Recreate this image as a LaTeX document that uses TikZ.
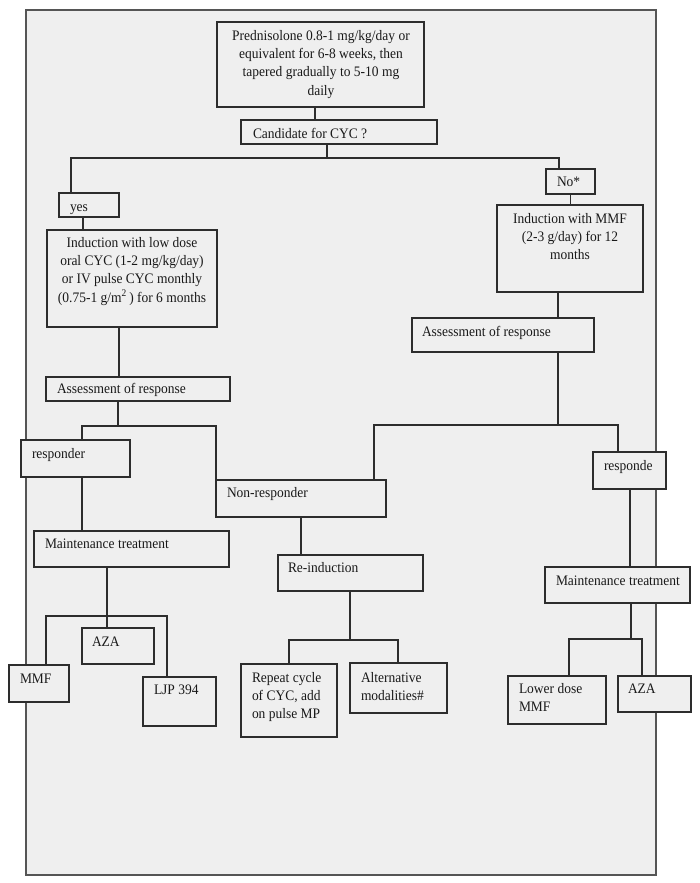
\documentclass[tikz,border=0pt]{standalone}
\usepackage{fontspec}
\setmainfont{Liberation Serif}[FakeStretch=0.93]
\definecolor{bg}{RGB}{239,239,239}
\definecolor{ln}{RGB}{45,45,45}
\definecolor{fr}{RGB}{85,85,85}
\definecolor{tx}{RGB}{25,25,25}
\tikzset{
  boxst/.style={draw=ln, line width=1.3pt, fill=bg, rectangle, inner sep=0pt, outer sep=0pt},
  txt/.style={inner sep=0pt, outer sep=0pt, text=tx, font=\fontsize{14.5}{18.2}\selectfont},
  conn/.style={draw=ln, line width=1.3pt}
}
\newcommand\bx[5]{\node[boxst, anchor=north west, minimum width={(#4-#2)*1pt}, minimum height={(#5-#3)*1pt}] (#1) at (#2,-#3) {};}
\newcommand\tl[4]{\node[txt, anchor=base west] (#1) at (#2,{-#3-4.5}) {#4};}
\begin{document}
\begin{tikzpicture}[x=1pt,y=1pt]
\useasboundingbox (0,0) rectangle (700,-883);
\fill[white] (0,0) rectangle (700,-883);
\draw[draw=fr, line width=1.2pt, fill=bg] (26,-10) rectangle (656,-875);

% boxes
\bx{top}{217}{22}{424}{107}
\bx{cand}{241}{120}{437}{144}
\bx{yes}{59}{193}{119}{217}
\bx{no}{546}{169}{595}{194}
\bx{indL}{47}{230}{217}{327}
\bx{indR}{497}{205}{643}{292}
\bx{assR}{412}{318}{594}{352}
\bx{assL}{46}{377}{230}{401}
\bx{resp}{21}{440}{130}{477}
\bx{nonr}{216}{480}{386}{517}
\bx{mntL}{34}{531}{229}{567}
\bx{reind}{278}{555}{423}{591}
\bx{respR}{593}{452}{666}{489}
\bx{mntR}{545}{567}{690}{603}
\bx{azaL}{82}{628}{154}{664}
\bx{mmf}{9}{665}{69}{702}
\bx{ljp}{143}{677}{216}{726}
\bx{rep}{241}{664}{337}{737}
\bx{alt}{350}{663}{447}{713}
\bx{low}{508}{676}{606}{724}
\bx{azaR}{618}{676}{691}{712}

% connectors
\begin{scope}[on background layer/.style={}]
\draw[conn] ([xshift=98pt]top.south west) coordinate (a1) -- (a1 |- cand.north);
\draw[conn] ([xshift=86pt]cand.south west) coordinate (a2) -- ++(0,-14) coordinate (j1);
\draw[conn] (j1) -| ([xshift=12pt]yes.north west);
\draw[conn] (j1) -| ([xshift=13pt]no.north west);
\draw[conn] ([xshift=24pt]yes.south west) coordinate (a3) -- (a3 |- indL.north);
\draw[conn] (no.south) -- (no.south |- indR.north);
\draw[conn] ([xshift=72pt]indL.south west) coordinate (a4) -- (a4 |- assL.north);
\draw[conn] ([xshift=61pt]indR.south west) coordinate (a5) -- (a5 |- assR.north);
\draw[conn] ([xshift=72pt]assL.south west) coordinate (a6) -- ++(0,-25) coordinate (j2);
\draw[conn] (j2) -| ([xshift=61pt]resp.north west);
\draw[conn] (j2) -| (nonr.north west);
\draw[conn] ([xshift=146pt]assR.south west) coordinate (a7) -- ++(0,-73) coordinate (j3);
\draw[conn] (j3) -| ([xshift=158pt]nonr.north west);
\draw[conn] (j3) -| ([xshift=25pt]respR.north west);
\draw[conn] ([xshift=61pt]resp.south west) coordinate (a8) -- (a8 |- mntL.north);
\draw[conn] ([xshift=85pt]nonr.south west) coordinate (a9) -- (a9 |- reind.north);
\draw[conn] ([xshift=37pt]respR.south west) coordinate (a10) -- (a10 |- mntR.north);
\draw[conn] ([xshift=73pt]mntL.south west) coordinate (a11) -- (a11 |- azaL.north);
\path (a11) ++(0,-49) coordinate (j4);
\draw[conn] ([xshift=37pt]mmf.north west) |- (j4) -| ([xshift=24pt]ljp.north west);
\draw[conn] ([xshift=72pt]reind.south west) coordinate (a12) -- ++(0,-49) coordinate (j5);
\draw[conn] ([xshift=48pt]rep.north west) |- (j5) -| ([xshift=48pt]alt.north west);
\draw[conn] ([xshift=86pt]mntR.south west) coordinate (a13) -- ++(0,-36) coordinate (j6);
\draw[conn] ([xshift=61pt]low.north west) |- (j6) -| ([xshift=24pt]azaR.north west);
\end{scope}

% redraw boxes on top of connectors
\foreach \n in {top,cand,yes,no,indL,indR,assR,assL,resp,nonr,mntL,reind,respR,mntR,azaL,mmf,ljp,rep,alt,low,azaR}{
  \draw[draw=ln, line width=1.3pt] (\n.south west) rectangle (\n.north east);
}

% texts
\node[txt, align=center, anchor=north] (top-t) at (321,-30.5) {Prednisolone 0.8-1 mg/kg/day or\\equivalent for 6-8 weeks, then\\tapered gradually to 5-10 mg\\daily};
\tl{cand-t}{253}{134}{Candidate for CYC ?}
\tl{yes-t}{70}{207}{yes}
\tl{no-t}{557}{182}{No*}
\node[txt, align=center, anchor=north] (indL-t) at (132,-237.5) {Induction with low dose\\oral CYC (1-2 mg/kg/day)\\or IV pulse CYC monthly\\(0.75-1 g/m\textsuperscript{2}\,) for 6 months};
\node[txt, align=center, anchor=north] (indR-t) at (570,-213.5) {Induction with MMF\\(2-3 g/day) for 12\\months};
\tl{assR-t}{422}{332}{Assessment of response}
\tl{assL-t}{57}{389}{Assessment of response}
\tl{resp-t}{32}{454}{responder}
\tl{nonr-t}{227}{493}{Non-responder}
\tl{mntL-t}{45}{544}{Maintenance treatment}
\tl{reind-t}{288}{568}{Re-induction}
\tl{respR-t}{604}{466}{responde}
\tl{mntR-t}{556}{581}{Maintenance treatment}
\tl{azaL-t}{92}{642}{AZA}
\tl{mmf-t}{20}{679}{MMF}
\tl{ljp-t}{154}{690}{LJP 394}
\tl{azaR-t}{628}{689}{AZA}
\node[txt, align=left, anchor=north west] (rep-t) at (252,-672.5) {Repeat cycle\\of CYC, add\\on pulse MP};
\node[txt, align=left, anchor=north west] (alt-t) at (361,-672.5) {Alternative\\modalities\#};
\node[txt, align=left, anchor=north west] (low-t) at (519,-683.5) {Lower dose\\MMF};
\end{tikzpicture}
\end{document}
